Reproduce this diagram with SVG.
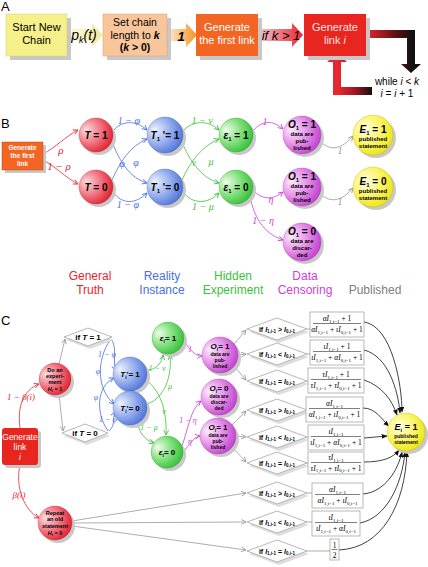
<svg xmlns="http://www.w3.org/2000/svg" width="428" height="567" viewBox="0 0 428 567">
<defs>
<style>
.s{font-family:"Liberation Sans",Arial,sans-serif}
.b{font-family:"Liberation Sans",Arial,sans-serif;font-weight:bold}
.gk{font-family:"Liberation Serif","Times New Roman",serif;font-style:italic}
.fm{font-family:"Liberation Serif","Times New Roman",serif;font-size:7.5px;text-anchor:middle}
.sb{font-size:5px}
.it{font-style:italic}
.mid{text-anchor:middle}
.sh{fill:#c8c8c8}
.dsh{fill:#dedede}
.dm{fill:#fff;stroke:#9a9a9a;stroke-width:0.7}
.fb{fill:#fff;stroke:#9a9a9a;stroke-width:0.7}
.fl{stroke:#000;stroke-width:0.5}
.cr{fill:none;stroke:#e8262f;stroke-width:0.8}
.cb{fill:none;stroke:#4a6fe0;stroke-width:0.8}
.cg{fill:none;stroke:#3cc23c;stroke-width:0.8}
.cm{fill:none;stroke:#d040d8;stroke-width:0.8}
.cy{fill:none;stroke:#999;stroke-width:0.8}
.ck{fill:none;stroke:#111;stroke-width:0.8}
.ct{font-family:"Liberation Sans",Arial,sans-serif;font-weight:bold;text-anchor:middle;fill:#000}
</style>
<radialGradient id="gr" cx="0.35" cy="0.4" r="0.7" fx="0.2" fy="0.35"><stop offset="0" stop-color="#fcdde1"/><stop offset="0.5" stop-color="#f27a87"/><stop offset="1" stop-color="#e01c2a"/></radialGradient>
<radialGradient id="gb" cx="0.35" cy="0.4" r="0.7" fx="0.2" fy="0.35"><stop offset="0" stop-color="#eef2fc"/><stop offset="0.5" stop-color="#9bb3f0"/><stop offset="1" stop-color="#4c70d6"/></radialGradient>
<radialGradient id="gg" cx="0.35" cy="0.4" r="0.7" fx="0.2" fy="0.35"><stop offset="0" stop-color="#effcea"/><stop offset="0.5" stop-color="#88e283"/><stop offset="1" stop-color="#2fbf33"/></radialGradient>
<radialGradient id="gm" cx="0.35" cy="0.4" r="0.7" fx="0.2" fy="0.35"><stop offset="0" stop-color="#fcecfc"/><stop offset="0.5" stop-color="#e796ea"/><stop offset="1" stop-color="#c03ccc"/></radialGradient>
<radialGradient id="gy" cx="0.4" cy="0.4" r="0.7" fx="0.3" fy="0.35"><stop offset="0" stop-color="#fffee8"/><stop offset="0.5" stop-color="#fbf56e"/><stop offset="1" stop-color="#ebe200"/></radialGradient>
<linearGradient id="a1" x1="0" x2="1" y1="0" y2="0"><stop offset="0" stop-color="#fdfbe0"/><stop offset="1" stop-color="#f2ea9c"/></linearGradient>
<linearGradient id="a2" x1="0" x2="1" y1="0" y2="0"><stop offset="0" stop-color="#fdebd8"/><stop offset="1" stop-color="#f7931e"/></linearGradient>
<linearGradient id="a3" x1="0" x2="1" y1="0" y2="0"><stop offset="0" stop-color="#f8c6cc"/><stop offset="1" stop-color="#e8262f"/></linearGradient>
<linearGradient id="lp1" gradientUnits="userSpaceOnUse" x1="366" y1="34" x2="412" y2="34"><stop offset="0" stop-color="#e8262f"/><stop offset="0.6" stop-color="#6a1212"/><stop offset="1" stop-color="#111"/></linearGradient>
<linearGradient id="lp2" gradientUnits="userSpaceOnUse" x1="372" y1="91" x2="338" y2="91"><stop offset="0" stop-color="#111"/><stop offset="0.5" stop-color="#a01820"/><stop offset="1" stop-color="#e8262f"/></linearGradient>
<marker id="mr" viewBox="0 0 10 10" refX="9" refY="5" markerWidth="6" markerHeight="6" markerUnits="userSpaceOnUse" orient="auto"><path d="M1,1 L9,5 L1,9" fill="none" stroke="#e8262f" stroke-width="1.4"/></marker>
<marker id="mb" viewBox="0 0 10 10" refX="9" refY="5" markerWidth="6" markerHeight="6" markerUnits="userSpaceOnUse" orient="auto"><path d="M1,1 L9,5 L1,9" fill="none" stroke="#4a6fe0" stroke-width="1.4"/></marker>
<marker id="mg" viewBox="0 0 10 10" refX="9" refY="5" markerWidth="6" markerHeight="6" markerUnits="userSpaceOnUse" orient="auto"><path d="M1,1 L9,5 L1,9" fill="none" stroke="#3cc23c" stroke-width="1.4"/></marker>
<marker id="mm" viewBox="0 0 10 10" refX="9" refY="5" markerWidth="6" markerHeight="6" markerUnits="userSpaceOnUse" orient="auto"><path d="M1,1 L9,5 L1,9" fill="none" stroke="#d040d8" stroke-width="1.4"/></marker>
<marker id="my" viewBox="0 0 10 10" refX="9" refY="5" markerWidth="6" markerHeight="6" markerUnits="userSpaceOnUse" orient="auto"><path d="M1,1 L9,5 L1,9" fill="none" stroke="#999" stroke-width="1.4"/></marker>
<marker id="mk" viewBox="0 0 10 10" refX="9" refY="5" markerWidth="6" markerHeight="6" markerUnits="userSpaceOnUse" orient="auto"><path d="M0,1 L10,5 L0,9 Z" fill="#111"/></marker>
</defs>
<rect width="428" height="567" fill="#fff"/>

<!-- Panel labels -->
<text class="s" x="1" y="11" font-size="13">A</text>
<text class="s" x="1" y="128" font-size="13">B</text>
<text class="s" x="1" y="325" font-size="13">C</text>

<!-- ===== Panel A ===== -->
<g id="a-connectors">
<polygon points="66,29 92,29 92,23 103,35 92,47 92,41 66,41" fill="url(#a1)"/>
<text class="s it mid" x="84" y="40" font-size="14">p<tspan font-size="9" dy="3">k</tspan><tspan dy="-3">(t)</tspan></text>
<polygon points="167,29 186,29 186,23 197,35 186,47 186,41 167,41" fill="url(#a2)"/>
<text class="b it mid" x="181" y="41" font-size="13">1</text>
<polygon points="258,29 292,29 292,23 303,35 292,47 292,41 258,41" fill="url(#a3)"/>
<text class="s it mid" x="281" y="40" font-size="13">if k &gt; 1</text>
<polygon points="366,30 415,30 415,64 421,64 411,73 401,64 407,64 407,38 366,38" fill="url(#lp1)"/>
<polygon points="372,87 372,95 333,95 333,62 327,62 337,53 347,62 341,62 341,87" fill="url(#lp2)"/>
<text class="s mid" x="397" y="85" font-size="10">while <tspan class="it">i</tspan> &lt; <tspan class="it">k</tspan></text>
<text class="s mid" x="397" y="97" font-size="10"><tspan class="it">i</tspan> = <tspan class="it">i</tspan> + 1</text>
</g>
<g id="a-start">
<rect class="sh" x="10" y="18" width="61" height="42"/>
<rect x="6" y="14" width="61" height="42" fill="#f6f08a" stroke="#d6cc70" stroke-width="0.5"/>
<text class="s mid" x="36.5" y="31" font-size="11">Start New</text>
<text class="s mid" x="36.5" y="44" font-size="11">Chain</text>
</g>
<g id="a-setlen">
<rect class="sh" x="107" y="18" width="64" height="42"/>
<rect x="103" y="14" width="64" height="42" fill="#f9c59b" stroke="#e0a070" stroke-width="0.5"/>
<text class="s mid" x="135" y="26" font-size="10.5">Set chain</text>
<text class="s mid" x="135" y="38.5" font-size="10.5">length to <tspan class="b it">k</tspan></text>
<text class="b mid" x="135" y="51" font-size="10.5">(<tspan class="it">k</tspan> &gt; 0)</text>
</g>
<g id="a-first">
<rect class="sh" x="200" y="18" width="62" height="42"/>
<rect x="196" y="14" width="62" height="42" fill="#f26522"/>
<text class="s mid" x="227" y="31" font-size="11" fill="#fff">Generate</text>
<text class="s mid" x="227" y="44" font-size="11" fill="#fff">the first link</text>
</g>
<g id="a-link">
<rect class="sh" x="308" y="18" width="62" height="42"/>
<rect x="304" y="14" width="62" height="42" fill="#e8261f"/>
<text class="s mid" x="335" y="31" font-size="11" fill="#fde3e3">Generate</text>
<text class="s mid" x="335" y="44" font-size="11" fill="#fde3e3">link <tspan class="it">i</tspan></text>
</g>

<!-- ===== Panel B ===== -->
<g id="b-connectors">
<path class="cr" d="M43,154 C55,148 66,136 78,130" marker-end="url(#mr)"/>
<path class="cr" d="M43,160 C55,166 66,178 78,184" marker-end="url(#mr)"/>
<path class="cb" d="M113,131 C122,120 136,120 147,130" marker-end="url(#mb)"/>
<path class="cb" d="M112,142 C120,162 130,178 147,183" marker-end="url(#mb)"/>
<path class="cb" d="M112,180 C120,162 130,146 147,139" marker-end="url(#mb)"/>
<path class="cb" d="M113,192 C122,205 136,204 147,193" marker-end="url(#mb)"/>
<path class="cg" d="M183,131 C193,120 208,120 219,130" marker-end="url(#mg)"/>
<path class="cg" d="M182,142 C190,162 202,178 219,183" marker-end="url(#mg)"/>
<path class="cg" d="M182,180 C190,162 202,146 219,139" marker-end="url(#mg)"/>
<path class="cg" d="M183,192 C193,205 208,204 219,193" marker-end="url(#mg)"/>
<path class="cm" d="M253,131 C262,120 273,120 283,129" marker-end="url(#mm)"/>
<path class="cm" d="M253,190 C262,200 273,200 283,192" marker-end="url(#mm)"/>
<path class="cm" d="M250,197 C254,215 262,233 283,240" marker-end="url(#mm)"/>
<path class="cy" d="M320,141 C330,152 342,149 353,136" marker-end="url(#my)"/>
<path class="cy" d="M320,193 C330,204 342,201 353,188" marker-end="url(#my)"/>
<text class="gk mid" x="61" y="154" font-size="11" fill="#e8262f">ρ</text>
<text class="gk mid" x="59" y="170" font-size="11" fill="#e8262f">1 − ρ</text>
<text class="gk mid" x="129" y="124" font-size="10" fill="#4a6fe0">1 − φ</text>
<text class="gk mid" x="122" y="167" font-size="10" fill="#4a6fe0">φ</text>
<text class="gk mid" x="136" y="166" font-size="10" fill="#4a6fe0">φ</text>
<text class="gk mid" x="128" y="208" font-size="10" fill="#4a6fe0">1 − φ</text>
<text class="gk mid" x="202" y="124" font-size="10" fill="#3cc23c">1 − ν</text>
<text class="gk mid" x="194" y="166" font-size="10" fill="#3cc23c">ν</text>
<text class="gk mid" x="211" y="165" font-size="10" fill="#3cc23c">μ</text>
<text class="gk mid" x="203" y="210" font-size="10" fill="#3cc23c">1 − μ</text>
<text class="gk mid" x="265" y="125" font-size="10" fill="#d040d8">1</text>
<text class="gk mid" x="271" y="203" font-size="10" fill="#d040d8">η</text>
<text class="gk mid" x="263" y="224" font-size="10" fill="#d040d8">1 − η</text>
<text class="gk mid" x="340" y="154" font-size="10" fill="#999">1</text>
<text class="gk mid" x="340" y="205" font-size="10" fill="#999">1</text>
</g>
<g id="b-first">
<rect class="sh" x="5" y="145" width="41" height="28"/>
<rect x="2" y="142" width="41" height="28" fill="#f26522" stroke="#c04a10" stroke-width="0.5"/>
<text class="ct" x="22.5" y="150" font-size="6.5" style="fill:#fff">Generate</text>
<text class="ct" x="22.5" y="158" font-size="6.5" style="fill:#fff">the first</text>
<text class="ct" x="22.5" y="166" font-size="6.5" style="fill:#fff">link</text>
</g>
<g id="b-T1"><circle class="sh" cx="99" cy="138" r="17"/><circle cx="96" cy="135" r="17" fill="url(#gr)" stroke="#b01820" stroke-width="0.3"/><text class="ct" x="96" y="139" font-size="10"><tspan class="it">T</tspan> = 1</text></g>
<g id="b-T0"><circle class="sh" cx="99" cy="190" r="17"/><circle cx="96" cy="187" r="17" fill="url(#gr)" stroke="#b01820" stroke-width="0.3"/><text class="ct" x="96" y="191" font-size="10"><tspan class="it">T</tspan> = 0</text></g>
<g id="b-R1"><circle class="sh" cx="168" cy="138" r="18"/><circle cx="165" cy="135" r="18" fill="url(#gb)" stroke="#3050b0" stroke-width="0.3"/><text class="ct" x="165" y="139" font-size="10"><tspan class="it">T</tspan><tspan font-size="6" dy="2">1</tspan><tspan dy="-2"> '= 1</tspan></text></g>
<g id="b-R0"><circle class="sh" cx="168" cy="190" r="18"/><circle cx="165" cy="187" r="18" fill="url(#gb)" stroke="#3050b0" stroke-width="0.3"/><text class="ct" x="165" y="191" font-size="10"><tspan class="it">T</tspan><tspan font-size="6" dy="2">1</tspan><tspan dy="-2"> '= 0</tspan></text></g>
<g id="b-H1"><circle class="sh" cx="239" cy="138" r="17"/><circle cx="236" cy="135" r="17" fill="url(#gg)" stroke="#209020" stroke-width="0.3"/><text class="ct" x="236" y="139" font-size="10"><tspan class="it">ε</tspan><tspan font-size="6" dy="2">1</tspan><tspan dy="-2"> = 1</tspan></text></g>
<g id="b-H0"><circle class="sh" cx="239" cy="190" r="17"/><circle cx="236" cy="187" r="17" fill="url(#gg)" stroke="#209020" stroke-width="0.3"/><text class="ct" x="236" y="191" font-size="10"><tspan class="it">ε</tspan><tspan font-size="6" dy="2">1</tspan><tspan dy="-2"> = 0</tspan></text></g>
<g id="b-O1a"><circle class="sh" cx="305" cy="138" r="19"/><circle cx="302" cy="135" r="19" fill="url(#gm)" stroke="#9020a0" stroke-width="0.3"/><text class="ct" x="302" y="128" font-size="10"><tspan class="it">O</tspan><tspan font-size="6" dy="2">1</tspan><tspan dy="-2"> = 1</tspan></text><text class="ct" x="302" y="136" font-size="6">data are</text><text class="ct" x="302" y="143" font-size="6">pub-</text><text class="ct" x="302" y="150" font-size="6">lished</text></g>
<g id="b-O1b"><circle class="sh" cx="305" cy="190" r="19"/><circle cx="302" cy="187" r="19" fill="url(#gm)" stroke="#9020a0" stroke-width="0.3"/><text class="ct" x="302" y="180" font-size="10"><tspan class="it">O</tspan><tspan font-size="6" dy="2">1</tspan><tspan dy="-2"> = 1</tspan></text><text class="ct" x="302" y="188" font-size="6">data are</text><text class="ct" x="302" y="195" font-size="6">pub-</text><text class="ct" x="302" y="202" font-size="6">lished</text></g>
<g id="b-O0"><circle class="sh" cx="305" cy="245" r="19"/><circle cx="302" cy="242" r="19" fill="url(#gm)" stroke="#9020a0" stroke-width="0.3"/><text class="ct" x="302" y="235" font-size="10"><tspan class="it">O</tspan><tspan font-size="6" dy="2">1</tspan><tspan dy="-2"> = 0</tspan></text><text class="ct" x="302" y="243" font-size="6">data are</text><text class="ct" x="302" y="250" font-size="6">discar-</text><text class="ct" x="302" y="257" font-size="6">ded</text></g>
<g id="b-E1"><circle class="sh" cx="376" cy="138" r="20"/><circle cx="373" cy="135" r="20" fill="url(#gy)" stroke="#b0a800" stroke-width="0.3"/><text class="ct" x="373" y="133" font-size="10"><tspan class="it">E</tspan><tspan font-size="6" dy="2">1</tspan><tspan dy="-2"> = 1</tspan></text><text class="ct" x="373" y="141" font-size="6">published</text><text class="ct" x="373" y="148" font-size="6">statement</text></g>
<g id="b-E0"><circle class="sh" cx="376" cy="190" r="20"/><circle cx="373" cy="187" r="20" fill="url(#gy)" stroke="#b0a800" stroke-width="0.3"/><text class="ct" x="373" y="185" font-size="10"><tspan class="it">E</tspan><tspan font-size="6" dy="2">1</tspan><tspan dy="-2"> = 0</tspan></text><text class="ct" x="373" y="193" font-size="6">published</text><text class="ct" x="373" y="200" font-size="6">statement</text></g>
<g id="b-categories">
<text class="s mid" x="90" y="280" font-size="12" fill="#e8262f">General</text>
<text class="s mid" x="90" y="294" font-size="12" fill="#e8262f">Truth</text>
<text class="s mid" x="162" y="280" font-size="12" fill="#4a6fe0">Reality</text>
<text class="s mid" x="162" y="294" font-size="12" fill="#4a6fe0">Instance</text>
<text class="s mid" x="233" y="280" font-size="12" fill="#3cc23c">Hidden</text>
<text class="s mid" x="233" y="294" font-size="12" fill="#3cc23c">Experiment</text>
<text class="s mid" x="305" y="280" font-size="12" fill="#d040d8">Data</text>
<text class="s mid" x="305" y="294" font-size="12" fill="#d040d8">Censoring</text>
<text class="s mid" x="375" y="294" font-size="12" fill="#808080">Published</text>
</g>

<!-- ===== Panel C ===== -->
<g id="c-connectors">
<path class="cr" d="M20,428 C17,405 24,390 39,384" marker-end="url(#mr)"/>
<path class="cr" d="M20,465 C15,487 24,510 39,518" marker-end="url(#mr)"/>
<text class="gk mid" x="21" y="400" font-size="9" fill="#e8262f">1 − β(i)</text>
<text class="gk mid" x="19" y="498" font-size="9" fill="#e8262f">β(i)</text>
<path class="cy" d="M59,364 L65,339" marker-end="url(#my)"/>
<path class="cy" d="M59,394 L63,431" marker-end="url(#my)"/>
<path class="cb" d="M111,339 C118,348 112,362 116,370" marker-end="url(#mb)"/>
<path class="cb" d="M110,340 C97,360 96,388 114,404" marker-end="url(#mb)"/>
<path class="cb" d="M108,431 C95,412 97,386 114,378" marker-end="url(#mb)"/>
<path class="cb" d="M109,431 C116,425 112,418 115,412" marker-end="url(#mb)"/>
<text class="gk mid" x="107" y="357" font-size="8" fill="#4a6fe0">1 − φ</text>
<text class="gk mid" x="98" y="374" font-size="8" fill="#4a6fe0">φ</text>
<text class="gk mid" x="96" y="400" font-size="8" fill="#4a6fe0">φ</text>
<text class="gk mid" x="108" y="422" font-size="8" fill="#4a6fe0">1 − φ</text>
<path class="cg" d="M147,370 C157,370 162,362 163,355" marker-end="url(#mg)"/>
<path class="cg" d="M147,404 C165,398 172,376 170,355" marker-end="url(#mg)"/>
<path class="cg" d="M146,380 C160,390 167,410 166,435" marker-end="url(#mg)"/>
<path class="cg" d="M138,424 C140,436 148,441 154,443" marker-end="url(#mg)"/>
<text class="gk mid" x="157" y="371" font-size="8" fill="#3cc23c">1 − ν</text>
<text class="gk mid" x="170" y="389" font-size="8" fill="#3cc23c">μ</text>
<text class="gk mid" x="164" y="414" font-size="8" fill="#3cc23c">ν</text>
<text class="gk mid" x="149" y="430" font-size="8" fill="#3cc23c">1 − μ</text>
<path class="cm" d="M184,341 C190,350 195,356 202,356" marker-end="url(#mm)"/>
<path class="cm" d="M182,446 C188,430 190,410 201,401" marker-end="url(#mm)"/>
<path class="cm" d="M183,452 C190,445 193,437 200,436" marker-end="url(#mm)"/>
<text class="gk mid" x="190" y="352" font-size="8" fill="#d040d8">1</text>
<text class="gk mid" x="188" y="423" font-size="8" fill="#d040d8">1 − η</text>
<text class="gk mid" x="190" y="444" font-size="8" fill="#d040d8">η</text>
<path class="cy" d="M234,344 L246,330" marker-end="url(#my)"/>
<path class="cy" d="M238,355 L246,354" marker-end="url(#my)"/>
<path class="cy" d="M234,366 L246,380" marker-end="url(#my)"/>
<path class="cy" d="M232,425 L246,411" marker-end="url(#my)"/>
<path class="cy" d="M236,436 L246,437" marker-end="url(#my)"/>
<path class="cy" d="M232,447 L246,462" marker-end="url(#my)"/>
<path class="cy" d="M72,521 L246,493" marker-end="url(#my)"/>
<path class="cy" d="M72,523 L246,522" marker-end="url(#my)"/>
<path class="cy" d="M72,526 L246,550" marker-end="url(#my)"/>
<path class="cy" d="M307,329 L310,329 M307,354 L310,354 M307,381 L308,381 M307,410 L306,410 M307,437 L308,437 M307,463 L308,463 M307,493 L312,493 M307,522 L312,522 M307,551 L330,551"/>
<path class="ck" d="M364,322 C392,326 402,385 402,412" marker-end="url(#mk)"/>
<path class="ck" d="M364,350 C388,356 398,390 400,413" marker-end="url(#mk)"/>
<path class="ck" d="M364,380 C382,386 392,400 397,415" marker-end="url(#mk)"/>
<path class="ck" d="M363,408 C376,408 382,420 389,426" marker-end="url(#mk)"/>
<path class="ck" d="M364,438 L387,436" stroke="#777" marker-end="url(#mk)"/>
<path class="ck" d="M364,462 C382,462 393,458 399,450" marker-end="url(#mk)"/>
<path class="ck" d="M363,494 C385,492 398,470 402,452" marker-end="url(#mk)"/>
<path class="ck" d="M360,523 C386,518 402,485 405,452" marker-end="url(#mk)"/>
<path class="ck" d="M339,550 C382,548 405,505 407,452" marker-end="url(#mk)"/>
</g>
<g id="c-generate">
<rect class="sh" x="5" y="431" width="36" height="37" rx="3"/>
<rect x="2" y="428" width="36" height="37" rx="3" fill="#e8261f"/>
<text class="s mid" x="20" y="440" font-size="8.5" fill="#fff">Generate</text>
<text class="s mid" x="20" y="450" font-size="8.5" fill="#fff">link</text>
<text class="s mid it" x="20" y="460" font-size="8.5" fill="#fff">i</text>
</g>
<g id="c-exp"><circle class="sh" cx="58" cy="382" r="16"/><circle cx="55" cy="379" r="16" fill="url(#gr)" stroke="#b01820" stroke-width="0.3"/><text class="ct" x="55" y="372" font-size="5.5">Do an</text><text class="ct" x="55" y="378" font-size="5.5">experi-</text><text class="ct" x="55" y="384" font-size="5.5">ment</text><text class="ct" x="55" y="391" font-size="5.5"><tspan class="it">H</tspan><tspan font-size="4" dy="1">i</tspan><tspan dy="-1"> = 1</tspan></text></g>
<g id="c-repeat"><circle class="sh" cx="58" cy="526" r="17"/><circle cx="55" cy="523" r="17" fill="url(#gr)" stroke="#b01820" stroke-width="0.3"/><text class="ct" x="55" y="515" font-size="5.5">Repeat</text><text class="ct" x="55" y="521" font-size="5.5">an old</text><text class="ct" x="55" y="528" font-size="5.5">statement</text><text class="ct" x="55" y="535" font-size="5.5"><tspan class="it">H</tspan><tspan font-size="4" dy="1">i</tspan><tspan dy="-1"> = 0</tspan></text></g>
<g id="c-ifT1"><polygon class="dsh" points="66,340 90,331 114,340 90,349"/><polygon class="dm" points="64,337 88,328 112,337 88,346"/><text class="ct" x="88" y="340" font-size="8">if <tspan class="it">T</tspan> = 1</text></g>
<g id="c-ifT0"><polygon class="dsh" points="64,436 87,427 110,436 87,445"/><polygon class="dm" points="62,433 85,424 108,433 85,442"/><text class="ct" x="85" y="436" font-size="8">if <tspan class="it">T</tspan> = 0</text></g>
<g id="c-R1"><circle class="sh" cx="133" cy="377" r="17"/><circle cx="130" cy="374" r="17" fill="url(#gb)" stroke="#3050b0" stroke-width="0.3"/><text class="ct" x="130" y="377" font-size="8"><tspan class="it">T</tspan><tspan font-size="5" dy="1.5">i</tspan><tspan dy="-1.5">'= 1</tspan></text></g>
<g id="c-R0"><circle class="sh" cx="133" cy="411" r="17"/><circle cx="130" cy="408" r="17" fill="url(#gb)" stroke="#3050b0" stroke-width="0.3"/><text class="ct" x="130" y="411" font-size="8"><tspan class="it">T</tspan><tspan font-size="5" dy="1.5">i</tspan><tspan dy="-1.5">'= 0</tspan></text></g>
<g id="c-H1"><circle class="sh" cx="171" cy="341" r="16"/><circle cx="168" cy="338" r="16" fill="url(#gg)" stroke="#209020" stroke-width="0.3"/><text class="ct" x="168" y="341" font-size="8"><tspan class="it">ε</tspan><tspan font-size="5" dy="1.5">i</tspan><tspan dy="-1.5">= 1</tspan></text></g>
<g id="c-H0"><circle class="sh" cx="170" cy="455" r="16"/><circle cx="167" cy="452" r="16" fill="url(#gg)" stroke="#209020" stroke-width="0.3"/><text class="ct" x="167" y="455" font-size="8"><tspan class="it">ε</tspan><tspan font-size="5" dy="1.5">i</tspan><tspan dy="-1.5">= 0</tspan></text></g>
<g id="c-O1a"><circle class="sh" cx="223" cy="358" r="18"/><circle cx="220" cy="355" r="18" fill="url(#gm)" stroke="#9020a0" stroke-width="0.3"/><text class="ct" x="220" y="349" font-size="8"><tspan class="it">O</tspan><tspan font-size="5" dy="1.5">i</tspan><tspan dy="-1.5">= 1</tspan></text><text class="ct" x="220" y="356" font-size="5">data are</text><text class="ct" x="220" y="362" font-size="5">pub-</text><text class="ct" x="220" y="368" font-size="5">lished</text></g>
<g id="c-O0"><circle class="sh" cx="222" cy="400" r="18"/><circle cx="219" cy="397" r="18" fill="url(#gm)" stroke="#9020a0" stroke-width="0.3"/><text class="ct" x="219" y="391" font-size="8"><tspan class="it">O</tspan><tspan font-size="5" dy="1.5">i</tspan><tspan dy="-1.5">= 0</tspan></text><text class="ct" x="219" y="398" font-size="5">data are</text><text class="ct" x="219" y="404" font-size="5">discar-</text><text class="ct" x="219" y="410" font-size="5">ded</text></g>
<g id="c-O1b"><circle class="sh" cx="221" cy="439" r="18"/><circle cx="218" cy="436" r="18" fill="url(#gm)" stroke="#9020a0" stroke-width="0.3"/><text class="ct" x="218" y="430" font-size="8"><tspan class="it">O</tspan><tspan font-size="5" dy="1.5">i</tspan><tspan dy="-1.5">= 1</tspan></text><text class="ct" x="218" y="437" font-size="5">data are</text><text class="ct" x="218" y="443" font-size="5">pub-</text><text class="ct" x="218" y="449" font-size="5">lished</text></g>
<g id="c-E"><circle class="sh" cx="409" cy="435" r="19"/><circle cx="406" cy="432" r="19" fill="url(#gy)" stroke="#b0a800" stroke-width="0.3"/><text class="ct" x="406" y="430" font-size="9"><tspan class="it">E</tspan><tspan font-size="5.5" dy="1.5">i</tspan><tspan dy="-1.5"> = 1</tspan></text><text class="ct" x="406" y="438" font-size="5">published</text><text class="ct" x="406" y="444" font-size="5">statement</text></g>

<!-- decision diamonds, right column -->
<g id="d1"><polygon class="dsh" points="249,332 279,321 309,332 279,343"/><polygon class="dm" points="247,329 277,318 307,329 277,340"/><text class="ct" x="277" y="331.5" font-size="7">if <tspan class="it">I</tspan><tspan font-size="4.5" dy="1.5">1,i-1</tspan><tspan dy="-1.5"> &gt; </tspan><tspan class="it">I</tspan><tspan font-size="4.5" dy="1.5">0,i-1</tspan></text></g>
<g id="d2"><polygon class="dsh" points="249,357 279,346 309,357 279,368"/><polygon class="dm" points="247,354 277,343 307,354 277,365"/><text class="ct" x="277" y="356.5" font-size="7">if <tspan class="it">I</tspan><tspan font-size="4.5" dy="1.5">1,i-1</tspan><tspan dy="-1.5"> &lt; </tspan><tspan class="it">I</tspan><tspan font-size="4.5" dy="1.5">0,i-1</tspan></text></g>
<g id="d3"><polygon class="dsh" points="249,384 279,373 309,384 279,395"/><polygon class="dm" points="247,381 277,370 307,381 277,392"/><text class="ct" x="277" y="383.5" font-size="7">if <tspan class="it">I</tspan><tspan font-size="4.5" dy="1.5">1,i-1</tspan><tspan dy="-1.5"> = </tspan><tspan class="it">I</tspan><tspan font-size="4.5" dy="1.5">0,i-1</tspan></text></g>
<g id="d4"><polygon class="dsh" points="249,413 279,402 309,413 279,424"/><polygon class="dm" points="247,410 277,399 307,410 277,421"/><text class="ct" x="277" y="412.5" font-size="7">if <tspan class="it">I</tspan><tspan font-size="4.5" dy="1.5">1,i-1</tspan><tspan dy="-1.5"> &gt; </tspan><tspan class="it">I</tspan><tspan font-size="4.5" dy="1.5">0,i-1</tspan></text></g>
<g id="d5"><polygon class="dsh" points="249,440 279,429 309,440 279,451"/><polygon class="dm" points="247,437 277,426 307,437 277,448"/><text class="ct" x="277" y="439.5" font-size="7">if <tspan class="it">I</tspan><tspan font-size="4.5" dy="1.5">1,i-1</tspan><tspan dy="-1.5"> &lt; </tspan><tspan class="it">I</tspan><tspan font-size="4.5" dy="1.5">0,i-1</tspan></text></g>
<g id="d6"><polygon class="dsh" points="249,466 279,455 309,466 279,477"/><polygon class="dm" points="247,463 277,452 307,463 277,474"/><text class="ct" x="277" y="465.5" font-size="7">if <tspan class="it">I</tspan><tspan font-size="4.5" dy="1.5">1,i-1</tspan><tspan dy="-1.5"> = </tspan><tspan class="it">I</tspan><tspan font-size="4.5" dy="1.5">0,i-1</tspan></text></g>
<g id="d7"><polygon class="dsh" points="249,496 279,485 309,496 279,507"/><polygon class="dm" points="247,493 277,482 307,493 277,504"/><text class="ct" x="277" y="495.5" font-size="7">if <tspan class="it">I</tspan><tspan font-size="4.5" dy="1.5">1,i-1</tspan><tspan dy="-1.5"> &gt; </tspan><tspan class="it">I</tspan><tspan font-size="4.5" dy="1.5">0,i-1</tspan></text></g>
<g id="d8"><polygon class="dsh" points="249,525 279,514 309,525 279,536"/><polygon class="dm" points="247,522 277,511 307,522 277,533"/><text class="ct" x="277" y="524.5" font-size="7">if <tspan class="it">I</tspan><tspan font-size="4.5" dy="1.5">1,i-1</tspan><tspan dy="-1.5"> &lt; </tspan><tspan class="it">I</tspan><tspan font-size="4.5" dy="1.5">0,i-1</tspan></text></g>
<g id="d9"><polygon class="dsh" points="249,554 279,543 309,554 279,565"/><polygon class="dm" points="247,551 277,540 307,551 277,562"/><text class="ct" x="277" y="553.5" font-size="7">if <tspan class="it">I</tspan><tspan font-size="4.5" dy="1.5">1,i-1</tspan><tspan dy="-1.5"> = </tspan><tspan class="it">I</tspan><tspan font-size="4.5" dy="1.5">0,i-1</tspan></text></g>

<!-- formula boxes -->
<g id="f1"><rect class="fb" x="310" y="312" width="54" height="25"/><text class="fm" x="337" y="321"><tspan class="it">αI</tspan><tspan class="sb" dy="1.5">1,i−1</tspan><tspan dy="-1.5"> + 1</tspan></text><line class="fl" x1="313" x2="361" y1="323.5" y2="323.5"/><text class="fm" x="337" y="332"><tspan class="it">αI</tspan><tspan class="sb" dy="1.5">1,i−1</tspan><tspan dy="-1.5"> + </tspan><tspan class="it">ιI</tspan><tspan class="sb" dy="1.5">0,i−1</tspan><tspan dy="-1.5"> + 1</tspan></text></g>
<g id="f2"><rect class="fb" x="310" y="340" width="54" height="25"/><text class="fm" x="337" y="349"><tspan class="it">ιI</tspan><tspan class="sb" dy="1.5">1,i−1</tspan><tspan dy="-1.5"> + 1</tspan></text><line class="fl" x1="313" x2="361" y1="351.5" y2="351.5"/><text class="fm" x="337" y="360"><tspan class="it">ιI</tspan><tspan class="sb" dy="1.5">1,i−1</tspan><tspan dy="-1.5"> + </tspan><tspan class="it">αI</tspan><tspan class="sb" dy="1.5">0,i−1</tspan><tspan dy="-1.5"> + 1</tspan></text></g>
<g id="f3"><rect class="fb" x="308" y="368" width="56" height="25"/><text class="fm" x="336" y="377"><tspan class="it">τI</tspan><tspan class="sb" dy="1.5">1,i−1</tspan><tspan dy="-1.5"> + 1</tspan></text><line class="fl" x1="311" x2="361" y1="379.5" y2="379.5"/><text class="fm" x="336" y="388"><tspan class="it">τI</tspan><tspan class="sb" dy="1.5">1,i−1</tspan><tspan dy="-1.5"> + </tspan><tspan class="it">τI</tspan><tspan class="sb" dy="1.5">0,i−1</tspan><tspan dy="-1.5"> + 1</tspan></text></g>
<g id="f4"><rect class="fb" x="306" y="397" width="57" height="25"/><text class="fm" x="334.5" y="406"><tspan class="it">αI</tspan><tspan class="sb" dy="1.5">1,i−1</tspan></text><line class="fl" x1="309" x2="360" y1="408.5" y2="408.5"/><text class="fm" x="334.5" y="417"><tspan class="it">αI</tspan><tspan class="sb" dy="1.5">1,i−1</tspan><tspan dy="-1.5"> + </tspan><tspan class="it">ιI</tspan><tspan class="sb" dy="1.5">0,i−1</tspan><tspan dy="-1.5"> + 1</tspan></text></g>
<g id="f5"><rect class="fb" x="308" y="425" width="56" height="25"/><text class="fm" x="336" y="434"><tspan class="it">ιI</tspan><tspan class="sb" dy="1.5">1,i−1</tspan></text><line class="fl" x1="311" x2="361" y1="436.5" y2="436.5"/><text class="fm" x="336" y="445"><tspan class="it">ιI</tspan><tspan class="sb" dy="1.5">1,i−1</tspan><tspan dy="-1.5"> + </tspan><tspan class="it">αI</tspan><tspan class="sb" dy="1.5">0,i−1</tspan><tspan dy="-1.5"> + 1</tspan></text></g>
<g id="f6"><rect class="fb" x="308" y="452" width="56" height="22"/><text class="fm" x="336" y="460"><tspan class="it">τI</tspan><tspan class="sb" dy="1.5">1,i−1</tspan></text><line class="fl" x1="311" x2="361" y1="462.5" y2="462.5"/><text class="fm" x="336" y="470.5"><tspan class="it">τI</tspan><tspan class="sb" dy="1.5">1,i−1</tspan><tspan dy="-1.5"> + </tspan><tspan class="it">τI</tspan><tspan class="sb" dy="1.5">0,i−1</tspan><tspan dy="-1.5"> + 1</tspan></text></g>
<g id="f7"><rect class="fb" x="312" y="483" width="51" height="25"/><text class="fm" x="337.5" y="492"><tspan class="it">αI</tspan><tspan class="sb" dy="1.5">1,i−1</tspan></text><line class="fl" x1="315" x2="360" y1="494.5" y2="494.5"/><text class="fm" x="337.5" y="503"><tspan class="it">αI</tspan><tspan class="sb" dy="1.5">1,i−1</tspan><tspan dy="-1.5"> + </tspan><tspan class="it">ιI</tspan><tspan class="sb" dy="1.5">0,i−1</tspan></text></g>
<g id="f8"><rect class="fb" x="312" y="511" width="48" height="25"/><text class="fm" x="336" y="520"><tspan class="it">ιI</tspan><tspan class="sb" dy="1.5">1,i−1</tspan></text><line class="fl" x1="315" x2="357" y1="522.5" y2="522.5"/><text class="fm" x="336" y="531"><tspan class="it">ιI</tspan><tspan class="sb" dy="1.5">1,i−1</tspan><tspan dy="-1.5"> + </tspan><tspan class="it">αI</tspan><tspan class="sb" dy="1.5">0,i−1</tspan></text></g>
<g id="f9"><rect class="fb" x="330" y="539" width="9" height="21"/><text class="fm" x="334.5" y="547.5">1</text><line class="fl" x1="331.5" x2="337.5" y1="549.5" y2="549.5"/><text class="fm" x="334.5" y="557.5">2</text></g>
</svg>
